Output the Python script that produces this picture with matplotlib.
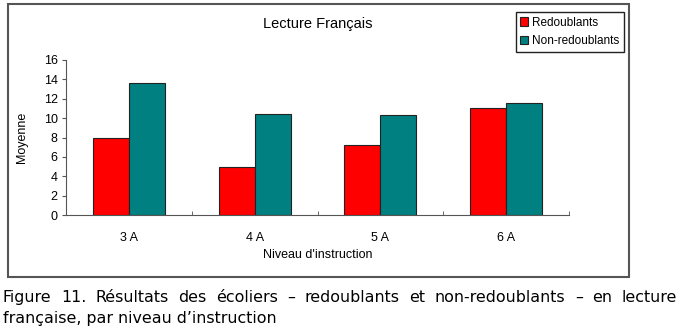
import numpy as np
import matplotlib.pyplot as plt
from matplotlib.patches import Rectangle

categories = ['3 A', '4 A', '5 A', '6 A']
redoublants = [8.0, 5.0, 7.2, 11.0]
non_redoublants = [13.6, 10.45, 10.35, 11.55]

plt.rcParams['font.family'] = ['Liberation Sans', 'DejaVu Sans']

W, H = 680, 332
fig = plt.figure(figsize=(W / 100, H / 100), dpi=100)
ax = fig.add_axes([66 / W, 1 - 215 / H, (569 - 66) / W, (215 - 60) / H])

x = np.arange(len(categories))
bw = 0.287
ax.bar(x - bw / 2, redoublants, bw, color='#ff0000', edgecolor='#222222', lw=0.8, label='Redoublants')
ax.bar(x + bw / 2, non_redoublants, bw, color='#008080', edgecolor='#222222', lw=0.8, label='Non-redoublants')

ax.set_xlim(-0.5, len(categories) - 0.5)
ax.set_ylim(0, 16)
ax.set_yticks(range(0, 17, 2))
ax.set_xticks(x)
ax.set_xticklabels(categories)
ax.set_xticks(np.arange(0.5, len(categories), 1), minor=True)
ax.tick_params(axis='x', which='major', length=0, pad=12, labelsize=9)
ax.tick_params(axis='x', which='minor', length=3, direction='in', color='#555555')
ax.tick_params(axis='y', length=3, labelsize=9, color='#555555', pad=3)
for s in ['top', 'right']:
    ax.spines[s].set_visible(False)
for s in ['left', 'bottom']:
    ax.spines[s].set_color('#555555')
ax.set_ylabel('Moyenne', fontsize=9)
ax.yaxis.set_label_coords((28 - 66) / 503, 0.5)
ax.text(0.5, (215 - 255) / 155, "Niveau d'instruction", transform=ax.transAxes,
        ha='center', va='center', fontsize=9)
ax.text(0.5, (215 - 24) / 155, 'Lecture Français', transform=ax.transAxes,
        ha='center', va='center', fontsize=10.5)

fig.legend(loc='upper right', bbox_to_anchor=(624 / W, 1 - 12 / H), fontsize=8.5,
           frameon=True, fancybox=False, edgecolor='#222222', framealpha=1,
           handlelength=0.7, handleheight=0.7, handletextpad=0.3,
           borderpad=0.4, labelspacing=0.55, borderaxespad=0)

fig.patches.append(Rectangle((8 / W, 1 - 277 / H), (629 - 8) / W, (277 - 4) / H,
                             transform=fig.transFigure, fill=False,
                             edgecolor='#555555', lw=1.5))

# caption, first line justified between x=3 and x=677
cap_font = dict(family='DejaVu Sans', fontsize=11.4)
line1 = 'Figure 11. Résultats des écoliers – redoublants et non-redoublants – en lecture'.split(' ')
line2 = 'française, par niveau d’instruction'
renderer = fig.canvas.get_renderer()
texts = [fig.text(0, 1 - 302 / H, w, ha='left', va='baseline', **cap_font) for w in line1]
widths = [t.get_window_extent(renderer).width for t in texts]
gap = (674 - sum(widths)) / (len(widths) - 1)
pos = 3
for t, w in zip(texts, widths):
    t.set_x(pos / W)
    pos += w + gap
fig.text(3 / W, 1 - 323 / H, line2, ha='left', va='baseline', **cap_font)

fig.savefig('out.png', dpi=100)
